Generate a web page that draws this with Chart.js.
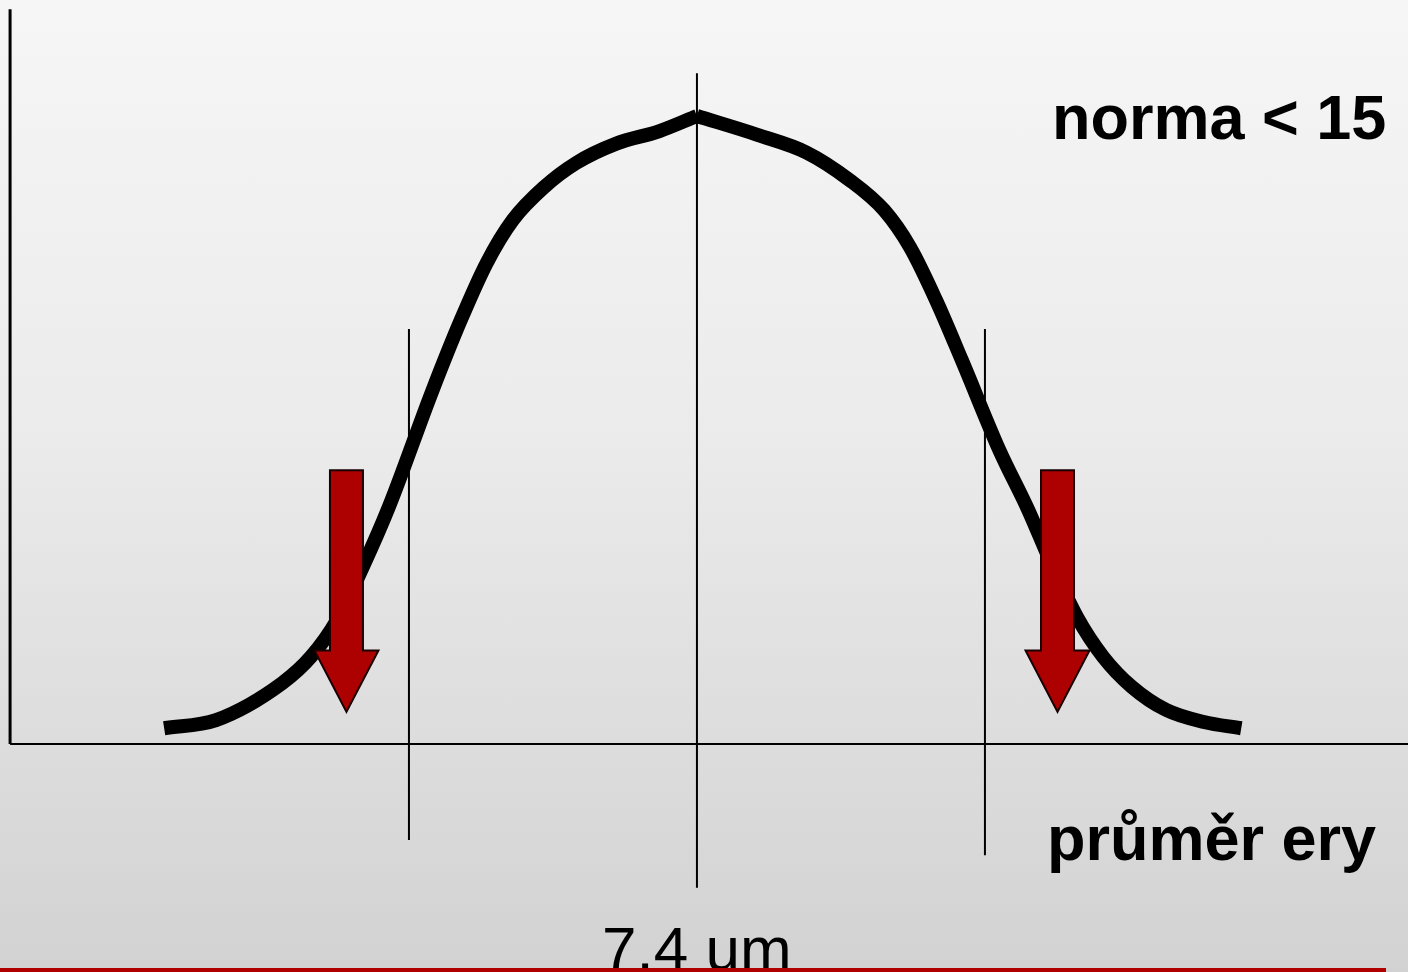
<!DOCTYPE html>
<html>
<head>
<meta charset="utf-8">
<script src="https://cdn.jsdelivr.net/npm/chart.js@4"></script>
<style>
  html, body { margin: 0; padding: 0; }
  body {
    width: 1408px; height: 972px; overflow: hidden;
    background: linear-gradient(to bottom, #f6f6f6 0%, #ebebeb 45%, #d2d2d2 100%);
  }
  canvas { display: block; }
</style>
</head>
<body>
<canvas id="curveChart" width="1408" height="972"></canvas>
<script>
// erythrocyte diameter (um) vs relative frequency (%), split at the peak
const leftX = [5.55, 5.73, 5.96, 6.06, 6.15, 6.24, 6.33, 6.48, 6.58, 6.67, 6.76, 6.87, 6.98, 7.12, 7.27, 7.40];
const leftY = [2.5, 3.8, 9.7, 13.9, 19.7, 28.2, 37.7, 56.1, 67.5, 76.6, 83.4, 88.7, 92.5, 95.6, 97.6, 100];
const rightX = [7.40, 7.61, 7.78, 7.93, 8.05, 8.14, 8.23, 8.32, 8.45, 8.55, 8.63, 8.72, 8.81, 8.91, 9.03, 9.16, 9.29];
const rightY = [100, 97.0, 94.2, 89.8, 85.0, 79.1, 70.7, 61.1, 46.8, 37.3, 28.8, 20.2, 13.9, 9.1, 5.4, 3.5, 2.5];

// guide lines: mean and +-1 SD
const guideX = [6.4, 7.4, 8.4];
const guideTop = [66.1, 106.8, 66.1];
const guideBottom = [-15.3, -22.9, -17.7];

// axes
const axisOriginX = 5.015;
const axisTopY = 117.0;
const axisEndX = 9.9;

// arrows (down)
const arrowX = [6.183, 8.652];
const arrowTop = 43.6;
const arrowHead = 14.9;
const arrowTip = 5.1;

const normText = 'norma < 15';
const axisText = 'průměr ery';
const meanText = '7.4 um';

const toPoints = (xs, ys) => xs.map((x, i) => ({ x: x, y: ys[i] }));
const curveStyle = {
  borderColor: '#000', borderWidth: 14, pointRadius: 0, showLine: true,
  cubicInterpolationMode: 'monotone', borderCapStyle: 'butt', borderJoinStyle: 'round'
};
const guideSets = guideX.map((x, i) => ({
  data: [{ x: x, y: guideTop[i] }, { x: x, y: guideBottom[i] }],
  borderColor: '#000', borderWidth: 2, pointRadius: 0, showLine: true
}));

const overlay = {
  id: 'overlay',
  afterDatasetsDraw(chart) {
    const c = chart.ctx;
    const xs = chart.scales.x, ys = chart.scales.y;
    // arrows
    arrowX.forEach(ax => {
      const cx = xs.getPixelForValue(ax);
      const t = ys.getPixelForValue(arrowTop);
      const h = ys.getPixelForValue(arrowHead);
      const tip = ys.getPixelForValue(arrowTip);
      c.save();
      c.beginPath();
      c.moveTo(cx - 16.5, t);
      c.lineTo(cx + 16.5, t);
      c.lineTo(cx + 16.5, h);
      c.lineTo(cx + 32, h);
      c.lineTo(cx, tip);
      c.lineTo(cx - 32, h);
      c.lineTo(cx - 16.5, h);
      c.closePath();
      c.fillStyle = '#ad0000';
      c.fill();
      c.lineWidth = 2;
      c.strokeStyle = '#1a0000';
      c.stroke();
      c.restore();
    });
    // texts
    c.save();
    c.fillStyle = '#000';
    c.textBaseline = 'alphabetic';
    c.textAlign = 'left';
    c.font = 'bold 63px "Liberation Sans", Arial, sans-serif';
    c.fillText(normText, 1052, 139);
    c.fillText(axisText, 1047, 860);
    c.font = '62px "Liberation Sans", Arial, sans-serif';
    c.fillText(meanText, 602, 970);
    // red bottom rule
    c.fillStyle = '#b00000';
    c.fillRect(0, 968, 1386, 4);
    c.restore();
  }
};

new Chart(document.getElementById('curveChart'), {
  type: 'scatter',
  data: {
    datasets: [
      {
        data: [{ x: axisOriginX, y: axisTopY }, { x: axisOriginX, y: 0 }],
        borderColor: '#000', borderWidth: 3, pointRadius: 0, showLine: true
      },
      {
        data: [{ x: axisOriginX, y: 0 }, { x: axisEndX, y: 0 }],
        borderColor: '#000', borderWidth: 2, pointRadius: 0, showLine: true
      },
      ...guideSets,
      Object.assign({ data: toPoints(leftX, leftY) }, curveStyle),
      Object.assign({ data: toPoints(rightX, rightY) }, curveStyle)
    ]
  },
  options: {
    responsive: false,
    animation: false,
    layout: { padding: 0 },
    plugins: { legend: { display: false }, tooltip: { enabled: false } },
    scales: {
      x: { type: 'linear', display: false, min: 4.980, max: 9.869 },
      y: { type: 'linear', display: false, min: -36.31, max: 118.47 }
    }
  },
  plugins: [overlay]
});
</script>
</body>
</html>
